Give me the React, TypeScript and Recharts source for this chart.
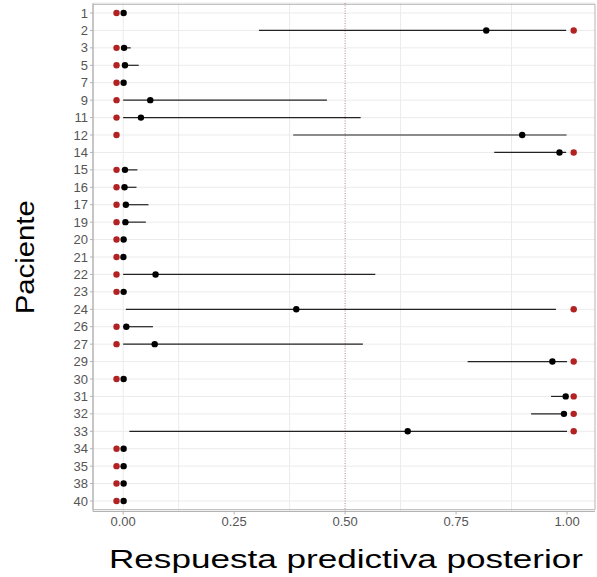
import React from "react";
import {
  ScatterChart,
  Scatter,
  XAxis,
  YAxis,
  CartesianGrid,
  ReferenceLine,
  ReferenceArea,
  ErrorBar,
} from "recharts";

// Patient ids (category axis, top to bottom)
const patients = [
  "1", "2", "3", "5", "7", "9", "11", "12", "14", "15", "16", "17", "19", "20",
  "21", "22", "23", "24", "26", "27", "29", "30", "31", "32", "33", "34", "35",
  "38", "40",
];
// Posterior predictive mean
const means = [
  0.001, 0.818, 0.002, 0.004, 0.001, 0.061, 0.04, 0.899, 0.983, 0.004, 0.003,
  0.006, 0.005, 0.001, 0.0005, 0.073, 0.001, 0.39, 0.007, 0.071, 0.967, 0.001,
  0.997, 0.993, 0.641, 0.001, 0.001, 0.001, 0.001,
];
// Interval lower bound
const lows = [
  0, 0.306, 0, 0, 0, 0, 0, 0.383, 0.836, 0, 0, 0, 0, 0, 0, 0, 0, 0.006, 0, 0,
  0.776, 0, 0.964, 0.919, 0.014, 0, 0, 0, 0,
];
// Interval upper bound
const highs = [
  0.004, 0.998, 0.017, 0.035, 0.003, 0.459, 0.535, 0.999, 0.998, 0.032, 0.03,
  0.057, 0.051, 0.003, 0.002, 0.568, 0.004, 0.975, 0.067, 0.54, 1.0, 0.004, 1.0,
  1.0, 1.0, 0.003, 0.003, 0.003, 0.003,
];
// Observed response
const observed = [
  0, 1, 0, 0, 0, 0, 0, 0, 1, 0, 0, 0, 0, 0, 0, 0, 0, 1, 0, 0, 1, 0, 1, 1, 1, 0,
  0, 0, 0,
];
const xTicks = [0, 0.25, 0.5, 0.75, 1];
const xMinor = [0.125, 0.375, 0.625, 0.875];

const X_MIN = -0.068;
const X_MAX = 1.063;
const NUDGE = 0.015; // observed points drawn slightly outside 0/1

const meanData = patients.map((id, i) => ({
  id,
  x: means[i],
  err: [means[i] - lows[i], highs[i] - means[i]],
}));
const obsData = patients.map((id, i) => ({
  id,
  x: observed[i] === 1 ? 1 + NUDGE : -NUDGE,
}));

const FONT = "'Liberation Sans', Arial, sans-serif";

const Dot = (color: string) => (props: any) => {
  const { cx, cy } = props;
  if (cx == null || cy == null) return null;
  return <circle cx={cx} cy={cy} r={3.2} fill={color} />;
};

const YTitle = (props: any) => {
  const vb = props.viewBox || {};
  const cy = vb.y + vb.height / 2;
  const cx = 25;
  return (
    <text
      x={cx}
      y={cy}
      transform={`rotate(-90 ${cx} ${cy})`}
      textAnchor="middle"
      dominantBaseline="central"
      fontFamily={FONT}
      fontSize={25}
      textLength={114}
      lengthAdjust="spacingAndGlyphs"
      fill="#000"
    >
      Paciente
    </text>
  );
};

const XTitle = (props: any) => {
  const vb = props.viewBox || {};
  const cx = vb.x + vb.width / 2;
  return (
    <text
      x={cx + 2}
      y={568}
      textAnchor="middle"
      fontFamily={FONT}
      fontSize={25}
      textLength={474}
      lengthAdjust="spacingAndGlyphs"
      fill="#000"
    >
      Respuesta predictiva posterior
    </text>
  );
};

export default function App() {
  return (
    <div style={{ position: "absolute", left: 0, top: 0, background: "#fff" }}>
      <ScatterChart
        width={597}
        height={577}
        margin={{ top: 3, right: 2, bottom: 0, left: 0 }}
      >
        <CartesianGrid
          stroke="#EBEBEB"
          strokeWidth={1}
          verticalValues={[...xTicks, ...xMinor]}
        />
        <XAxis
          type="number"
          dataKey="x"
          domain={[X_MIN, X_MAX]}
          allowDataOverflow
          ticks={xTicks}
          tickFormatter={(v: number) => v.toFixed(2)}
          height={65.5}
          tickSize={3}
          tickMargin={2}
          stroke="#B3B3B3"
          tick={{ fill: "#555", fontSize: 13, fontFamily: FONT }}
          label={<XTitle />}
        />
        <YAxis
          type="category"
          dataKey="id"
          allowDuplicatedCategory={false}
          reversed
          width={93}
          interval={0}
          padding={{ top: 1.3, bottom: 1.8 }}
          tickSize={3}
          tickMargin={2}
          stroke="#B3B3B3"
          tick={{ fill: "#555", fontSize: 13, fontFamily: FONT }}
          label={<YTitle />}
        />
        <ReferenceArea
          x1={X_MIN}
          x2={X_MAX}
          fill="none"
          stroke="#B3B3B3"
          strokeWidth={1}
          ifOverflow="visible"
        />
        <ReferenceLine
          x={0.5}
          stroke="#B88080"
          strokeDasharray="1 1.5"
          strokeWidth={1}
        />
        <Scatter
          data={obsData}
          shape={Dot("#B22222")}
          isAnimationActive={false}
        />
        <Scatter
          data={meanData}
          shape={Dot("#000000")}
          isAnimationActive={false}
        >
          <ErrorBar
            dataKey="err"
            direction="x"
            width={0}
            stroke="#222"
            strokeWidth={1.2}
          />
        </Scatter>
      </ScatterChart>
    </div>
  );
}
